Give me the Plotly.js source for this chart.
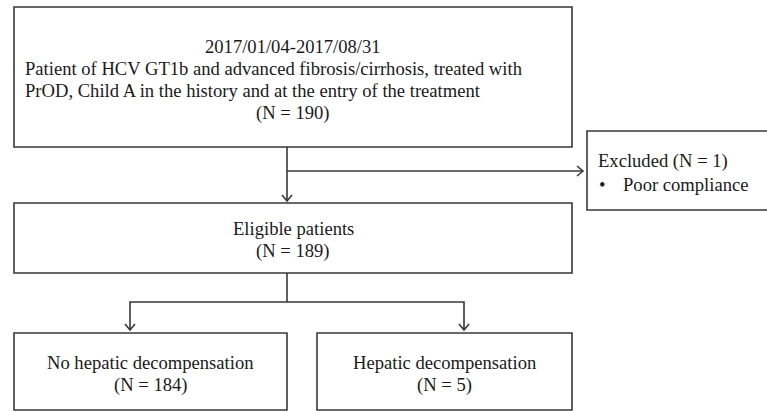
<!DOCTYPE html>
<html>
<head>
<meta charset="utf-8">
<script src="https://cdn.plot.ly/plotly-3.0.1.min.js"></script>
<style>html,body{margin:0;padding:0;background:#fff;}#chart{width:767px;height:411px;}</style>
</head>
<body>
<div id="chart"></div>
<script>
// ---- data (texts and counts) ----
var period = "2017/01/04-2017/08/31";
var cohortLines = ["Patient of HCV GT1b and advanced fibrosis/cirrhosis, treated with",
                   "PrOD, Child A in the history and at the entry of the treatment"];
var stageLabels = ["Enrolled", "Eligible patients", "No hepatic decompensation", "Hepatic decompensation"];
var stageCounts = [190, 189, 184, 5];
var excludedCount = 1;
var excludedReasons = ["Poor compliance"];

// ---- layout geometry (pixels) ----
var G = {
  top: {x0: 14, x1: 572, y0: 7, y1: 147},
  elig: {x0: 14, x1: 572, y0: 203, y1: 273},
  excl: {x0: 587, x1: 800, y0: 131, y1: 210},
  left: {x0: 14, x1: 287, y0: 333, y1: 410},
  right: {x0: 317, x1: 572, y0: 333, y1: 410}
};
var LC = '#383838', LW = 1.6;
var FONT = {family: 'Liberation Serif, Times New Roman, serif', size: 18.6, color: '#1a1a1a'};

function rect(b) {
  return {type: 'rect', xref: 'x', yref: 'y', x0: b.x0, x1: b.x1, y0: b.y0, y1: b.y1,
          line: {color: LC, width: LW}, fillcolor: 'rgba(0,0,0,0)'};
}
function seg(pts) {
  var d = 'M' + pts.map(function (p) { return p[0] + ',' + p[1]; }).join(' L');
  return {type: 'path', xref: 'x', yref: 'y', path: d, line: {color: LC, width: LW}};
}
function headDown(x, y) { return seg([[x - 5, y - 6], [x, y], [x + 5, y - 6]]); }
function headRight(x, y) { return seg([[x - 6, y - 5], [x, y], [x - 6, y + 5]]); }

var cx = 287;
var shapes = [
  rect(G.top), rect(G.elig), rect(G.excl), rect(G.left), rect(G.right),
  seg([[cx, G.top.y1], [cx, G.elig.y0 - 2]]), headDown(cx, G.elig.y0 - 2),
  seg([[cx, 171], [G.excl.x0 - 4, 171]]), headRight(G.excl.x0 - 4, 171),
  seg([[cx, G.elig.y1], [cx, 302]]),
  seg([[130, 330], [130, 302], [464, 302], [464, 330]]),
  headDown(130, 330), headDown(464, 330)
];

function ann(text, x, y, xanchor) {
  return {text: text, x: x, y: y, xref: 'x', yref: 'y', xanchor: xanchor || 'center',
          yanchor: 'middle', showarrow: false, font: FONT};
}
var topC = (G.top.x0 + G.top.x1) / 2;
var eligC = (G.elig.x0 + G.elig.x1) / 2;
var leftC = (G.left.x0 + G.left.x1) / 2;
var rightC = (G.right.x0 + G.right.x1) / 2;
function nTxt(n) { return '(N = ' + n + ')'; }

var annotations = [
  ann(period, topC, 46),
  ann(cohortLines[0], 23, 68, 'left'),
  ann(cohortLines[1], 23, 90, 'left'),
  ann(nTxt(stageCounts[0]), topC, 113),
  ann(stageLabels[1], eligC, 228),
  ann(nTxt(stageCounts[1]), eligC, 251),
  ann(stageLabels[2], leftC, 362),
  ann(nTxt(stageCounts[2]), leftC, 385),
  ann(stageLabels[3], rightC, 362),
  ann(nTxt(stageCounts[3]), rightC, 385),
  ann('Excluded ' + nTxt(excludedCount), 596, 161, 'left'),
  ann('\u2022', 597, 184, 'left'),
  ann(excludedReasons[0], 621, 184, 'left')
];

var layout = {
  width: 767, height: 411,
  margin: {l: 0, r: 0, t: 0, b: 0, pad: 0},
  paper_bgcolor: '#fff', plot_bgcolor: '#fff',
  showlegend: false,
  xaxis: {range: [0, 767], visible: false, fixedrange: true},
  yaxis: {range: [411, 0], visible: false, fixedrange: true},
  shapes: shapes,
  annotations: annotations
};
Plotly.newPlot('chart', [{x: [], y: [], type: 'scatter', mode: 'markers', hoverinfo: 'skip'}], layout,
               {staticPlot: true, displayModeBar: false});
</script>
</body>
</html>
